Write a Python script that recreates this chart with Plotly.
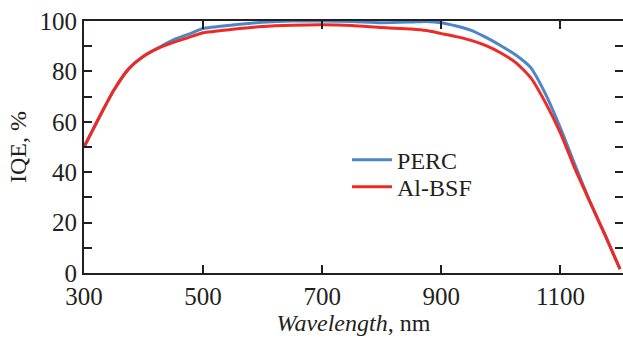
import plotly.graph_objects as go

wavelength = [300, 325, 350, 375, 400, 425, 450, 475, 500, 550, 600, 650, 700, 750,
              800, 850, 875, 900, 925, 950, 975, 1000, 1025, 1050, 1075, 1100, 1125,
              1150, 1175, 1200]
perc = [50, 61.5, 72.5, 81, 86, 89.4, 92.5, 94.7, 97, 98.4, 99.5, 100, 100, 99.8,
        99.3, 99.6, 99.8, 99.3, 98, 96.3, 93.5, 90.2, 86.5, 81.5, 71, 57.5, 42.5,
        28, 15, 1.5]
al_bsf = [50, 61.5, 72.5, 81, 86, 89.2, 91.5, 93.4, 95.3, 96.7, 97.8, 98.3, 98.5, 98.2,
          97.4, 96.8, 96.2, 95, 93.8, 92.3, 90.2, 87.3, 83.5, 77.5, 67.5, 55.5, 41,
          28, 15, 1.5]

x_ticks = [300, 500, 700, 900, 1100]
x_ticklabels = ["300", "500", "700", "900", "1100"]
y_ticks = [0, 10, 20, 30, 40, 50, 60, 70, 80, 90, 100]
y_ticklabels = ["0", "", "20", "", "40", "", "60", "", "80", "", "100"]

FONT = "Liberation Serif"
AX = "#231f20"
X_RANGE = [300, 1205]
Y_RANGE = [0, 100]

fig = go.Figure()
fig.add_trace(go.Scatter(x=wavelength, y=perc, mode="lines", name="PERC", legend="legend",
                         line=dict(color="#4a86c8", width=3, shape="spline", smoothing=0.6)))
fig.add_trace(go.Scatter(x=wavelength, y=al_bsf, mode="lines", name="Al-BSF", legend="legend2",
                         line=dict(color="#ee2a24", width=3, shape="spline", smoothing=0.6)))

leg_common = dict(xanchor="left", yanchor="middle", bgcolor="rgba(0,0,0,0)",
                  font=dict(size=24, family=FONT, color=AX), itemwidth=40)
tick_common = dict(ticks="inside", ticklen=8, tickwidth=1.5, tickcolor=AX,
                   showline=True, linewidth=2, linecolor=AX,
                   showgrid=False, zeroline=False, automargin=False)
fig.update_layout(
    width=623, height=338,
    margin=dict(l=84, r=0, t=21, b=65, autoexpand=False),
    plot_bgcolor="white", paper_bgcolor="white",
    font=dict(family=FONT, size=25, color=AX),
    showlegend=True,
    legend=dict(x=0.488, y=0.448, **leg_common),
    legend2=dict(x=0.488, y=0.341, **leg_common),
    xaxis=dict(range=X_RANGE, tickmode="array", tickvals=x_ticks, ticktext=x_ticklabels,
               tickfont=dict(size=25, family=FONT, color=AX),
               title=dict(text="<i>Wavelength</i>, nm",
                          font=dict(size=24, family=FONT, color=AX), standoff=2),
               **tick_common),
    yaxis=dict(range=Y_RANGE, tickmode="array", tickvals=y_ticks, ticktext=y_ticklabels,
               tickfont=dict(size=25, family=FONT, color=AX),
               title=dict(text="IQE, %", font=dict(size=24, family=FONT, color=AX), standoff=6),
               **tick_common),
    # mirrored frame: top and right axes without labels
    xaxis2=dict(range=X_RANGE, overlaying="x", side="top", anchor="y",
                tickmode="array", tickvals=x_ticks, showticklabels=False, **tick_common),
    yaxis2=dict(range=Y_RANGE, overlaying="y", side="right", anchor="x",
                tickmode="array", tickvals=y_ticks, showticklabels=False, **tick_common),
)
# invisible helper trace so the mirrored axes are drawn
fig.add_trace(go.Scatter(x=[X_RANGE[0]], y=[Y_RANGE[0]], xaxis="x2", yaxis="y2",
                         mode="markers", marker=dict(opacity=0), showlegend=False,
                         hoverinfo="skip"))

fig.write_html("out.html", config={"displayModeBar": False},
               post_script="document.body.style.margin='0';document.body.style.overflow='hidden';")
